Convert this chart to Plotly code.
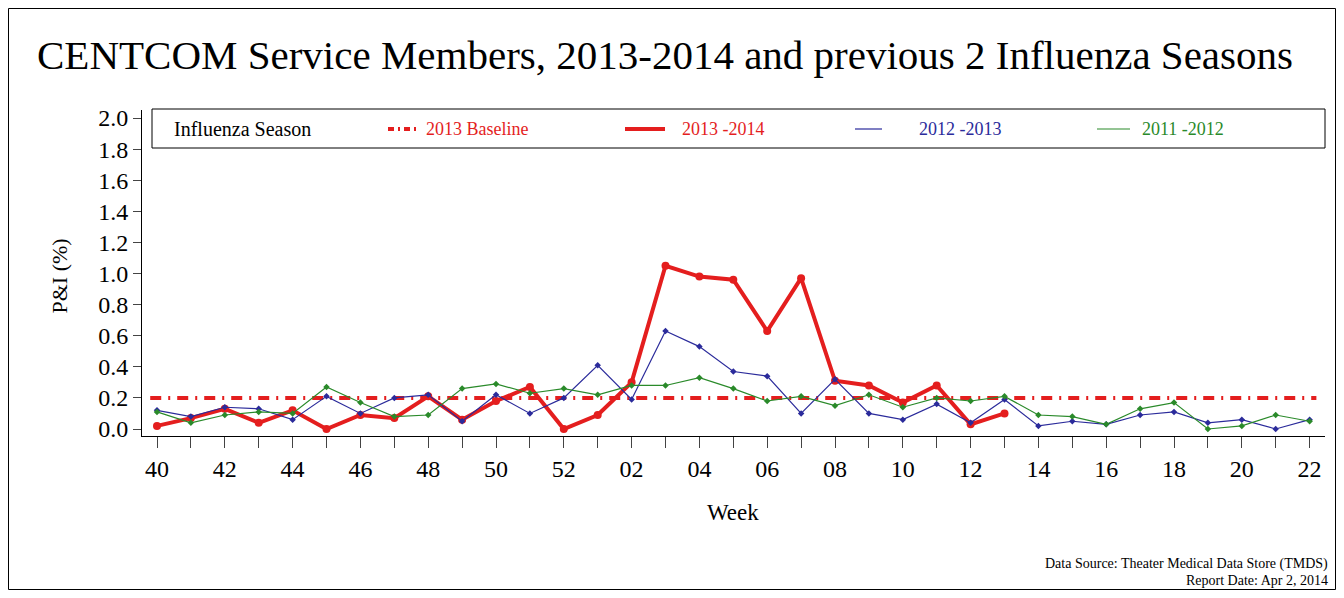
import plotly.graph_objects as go

weeks = ["40","41","42","43","44","45","46","47","48","49","50","51","52",
         "01","02","03","04","05","06","07","08","09","10","11","12","13",
         "14","15","16","17","18","19","20","21","22"]
s1314 = [0.02,0.07,0.13,0.04,0.12,0.00,0.09,0.07,0.21,0.06,0.18,0.27,0.00,
         0.09,0.30,1.05,0.98,0.96,0.63,0.97,0.31,0.28,0.17,0.28,0.03,0.10]
s1213 = [0.12,0.08,0.14,0.13,0.06,0.21,0.10,0.20,0.22,0.05,0.22,0.10,0.20,
         0.41,0.19,0.63,0.53,0.37,0.34,0.10,0.32,0.10,0.06,0.16,0.04,0.19,
         0.02,0.05,0.03,0.09,0.11,0.04,0.06,0.00,0.06]
s1112 = [0.11,0.04,0.09,0.11,0.10,0.27,0.17,0.08,0.09,0.26,0.29,0.23,0.26,
         0.22,0.28,0.28,0.33,0.26,0.18,0.21,0.15,0.22,0.14,0.20,0.18,0.21,
         0.09,0.08,0.03,0.13,0.17,0.00,0.02,0.09,0.05]
baseline = 0.2

RED, BLUE, GREEN = "#e41e1e", "#2b2b9b", "#2a8a2a"
x = list(range(len(weeks)))
FONT = "Liberation Serif"
fig = go.Figure()
fig.add_trace(go.Scatter(x=[-0.2, 34.2], y=[baseline]*2, mode="lines",
    line=dict(color=RED, width=4, dash="11px,7px,2px,7px")))
fig.add_trace(go.Scatter(x=x[:len(s1314)], y=s1314, mode="lines+markers",
    line=dict(color=RED, width=4), marker=dict(size=8, color=RED)))
fig.add_trace(go.Scatter(x=x, y=s1213, mode="lines+markers",
    line=dict(color=BLUE, width=1.2), marker=dict(size=5, symbol="diamond", color=BLUE)))
fig.add_trace(go.Scatter(x=x, y=s1112, mode="lines+markers",
    line=dict(color=GREEN, width=1.2), marker=dict(size=5, symbol="diamond", color=GREEN)))

OFF = 8  # page body margin
FW, FH = 1328, 582
# plot area in reference-screen pixels
L, R, T, B = 142, 1325, 110, 436
W, H = R - L, B - T
def px(p): return (p - L) / W
def py(p): return (B - p) / H

ann = [
    dict(text="CENTCOM Service Members, 2013-2014 and previous 2 Influenza Seasons",
         x=px(665), y=py(55), font=dict(size=41)),
    dict(text="Week", x=px(733), y=py(512), font=dict(size=23)),
    dict(text="P&I (%)", x=px(44), y=py(276), textangle=-90, font=dict(size=22)),
    dict(text="Data Source: Theater Medical Data Store (TMDS)", x=px(1330), y=py(564),
         xanchor="right", font=dict(size=14)),
    dict(text="Report Date: Apr 2, 2014", x=px(1330), y=py(580), xanchor="right",
         font=dict(size=14)),
    dict(text="Influenza Season", x=px(172), y=py(129), xanchor="left", font=dict(size=20)),
    dict(text="2013 Baseline", x=px(424), y=py(129), xanchor="left", font=dict(size=18, color=RED)),
    dict(text="2013 -2014", x=px(680), y=py(129), xanchor="left", font=dict(size=18, color=RED)),
    dict(text="2012 -2013", x=px(917), y=py(129), xanchor="left", font=dict(size=18, color=BLUE)),
    dict(text="2011 -2012", x=px(1140), y=py(129), xanchor="left", font=dict(size=18, color=GREEN)),
]
for a in ann:
    a.update(xref="paper", yref="paper", showarrow=False, yanchor="middle")

def hline(x0, x1, color, width, dash="solid"):
    return dict(type="line", xref="paper", yref="paper", x0=px(x0), x1=px(x1),
                y0=py(129), y1=py(129), line=dict(color=color, width=width, dash=dash))

shapes = [
    dict(type="rect", xref="paper", yref="paper", x0=px(OFF + 0.5), x1=px(OFF + FW - 0.5),
         y0=py(OFF + FH - 0.5), y1=py(OFF + 0.5), line=dict(color="black", width=1)),
    dict(type="rect", xref="paper", yref="paper", x0=px(152), x1=px(1325),
         y0=py(148), y1=py(109), line=dict(color="black", width=1), fillcolor="white"),
    hline(388, 416, RED, 4, "6px,4px,2px,4px"),
    hline(625, 665, RED, 4),
    hline(855, 882, BLUE, 1.2),
    hline(1097, 1130, GREEN, 1.2),
]

fig.update_layout(
    width=FW, height=FH,
    margin=dict(l=L - OFF, r=FW - (R - OFF), t=T - OFF, b=FH - (B - OFF)),
    paper_bgcolor="white", plot_bgcolor="white",
    font=dict(family=FONT, color="black"),
    showlegend=False,
    xaxis=dict(range=[(L - 157) / 33.9, (R - 157) / 33.9], tickvals=x,
        ticktext=[w if i % 2 == 0 else "" for i, w in enumerate(weeks)],
        ticks="outside", ticklen=11, showline=True, linecolor="black",
        showgrid=False, zeroline=False, tickfont=dict(size=24)),
    yaxis=dict(range=[-(B - 429) / 155.5, (429 - T) / 155.5], tickvals=[i / 5 for i in range(11)],
        tickformat=".1f", ticks="outside", ticklen=8, showline=True,
        linecolor="black", showgrid=False, zeroline=False, tickfont=dict(size=24)),
    annotations=ann, shapes=shapes,
)
fig.write_html("out.html")
